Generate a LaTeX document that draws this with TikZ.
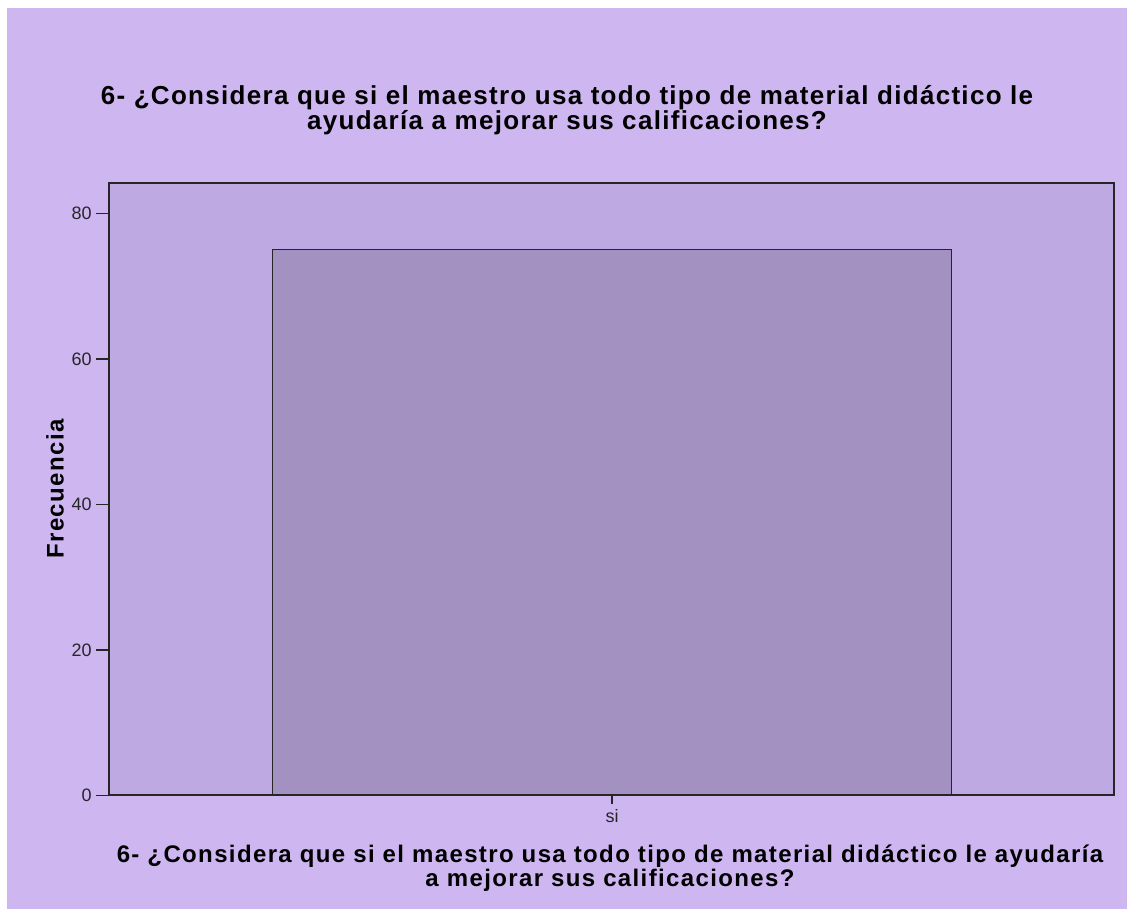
\documentclass[tikz,border=0pt]{standalone}
\usepackage{fontspec}
\setmainfont{Liberation Sans}
\newfontfamily\titlefont[LetterSpace=5]{Liberation Sans}
\newfontfamily\axisfont[LetterSpace=5.7]{Liberation Sans}
\usepackage{tikz}
\usetikzlibrary{positioning}
\definecolor{chartback}{RGB}{206,182,241}
\definecolor{plotback}{RGB}{191,169,226}
\definecolor{barfill}{RGB}{162,145,193}
\tikzstyle{title}=[font=\titlefont\bfseries\fontsize{26}{22}\selectfont, align=center, inner sep=0pt]
\tikzstyle{axistitle}=[font=\axisfont\bfseries\fontsize{24}{22}\selectfont, align=center, inner sep=0pt]
\tikzstyle{ticklabel}=[font=\fontsize{18}{18}\selectfont, inner sep=0pt, text=black!85]
\tikzstyle{plotarea}=[rectangle, draw=black!85, line width=1.3pt, fill=plotback, minimum width=1005pt, minimum height=612pt, inner sep=0pt]
\tikzstyle{bar}=[rectangle, draw=black!85, line width=1.2pt, fill=barfill, minimum width=679pt, inner sep=0pt]
\tikzstyle{tick}=[line width=1.5pt, black!85]

\begin{document}
\begin{tikzpicture}[x=1pt, y=-1pt]
	\def \unit {7.275}

		\fill[white] (0,0) rectangle (1127,909);
		\fill[chartback] (7,8) rectangle (1127,909);
		\node[title] (title) at (567,110) {6- ¿Considera que si el maestro usa todo tipo de material didáctico le\\ayudaría a mejorar sus calificaciones?};
		\node[plotarea] (plot) at (611.5,489) {};
		\node[bar, anchor=south west, minimum height=75*\unit pt] (bar) at (plot.south west -| 272,0) {};
		\foreach \v in {0,20,40,60,80}
			\draw[tick] (plot.south west) ++(0,-\v*\unit) -- ++(-12,0) node[left=4pt, ticklabel] {\v};
		\draw[tick] (bar.south) -- ++(0,8) node[below=5pt, ticklabel] (catlabel) {si};
		\node[axistitle, rotate=90] (ylabel) at (55,489) {Frecuencia};
		\node[axistitle] (xlabel) at (610,868) {6- ¿Considera que si el maestro usa todo tipo de material didáctico le ayudaría\\a mejorar sus calificaciones?};
\end{tikzpicture}
\end{document}
